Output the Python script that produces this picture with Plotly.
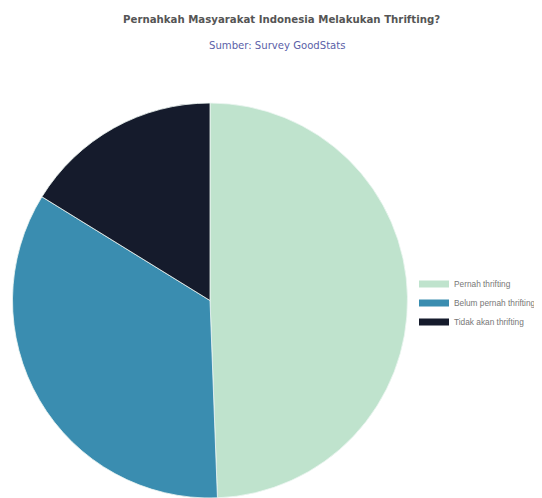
import plotly.graph_objects as go

labels = ["Pernah thrifting", "Belum pernah thrifting", "Tidak akan thrifting"]
values = [49.4, 34.4, 16.2]
colors = ["#bfe3cd", "#3a8db0", "#151b2c"]

title_text = "Pernahkah Masyarakat Indonesia Melakukan Thrifting?"
subtitle_text = "Sumber: Survey GoodStats"

W, H = 534, 490  # page body has an 8px margin

fig = go.Figure()
fig.add_trace(go.Pie(
    labels=labels, values=values, sort=False, direction="clockwise", rotation=0,
    marker=dict(colors=colors, line=dict(color="#eef6f2", width=0.8)),
    textinfo="none", showlegend=False, hoverinfo="label+percent",
    domain=dict(x=[3/W, 401/W], y=[0, (H-95)/H]),
))
for lab, col in zip(labels, colors):
    fig.add_trace(go.Scatter(x=[None], y=[None], mode="lines", name=lab,
                             line=dict(color=col, width=7), showlegend=True))

fig.update_layout(
    width=W, height=H,
    margin=dict(l=0, r=0, t=0, b=0),
    paper_bgcolor="white", plot_bgcolor="white",
    font=dict(family="Liberation Sans, Arial, sans-serif", color="#777"),
    xaxis=dict(visible=False), yaxis=dict(visible=False),
    legend=dict(x=406/W, xanchor="left", y=1-295/H, yanchor="middle",
                font=dict(size=8.3, color="#777"), tracegroupgap=0,
                bgcolor="rgba(0,0,0,0)"),
    annotations=[
        dict(text="<b>" + title_text + "</b>", x=273.5/W, y=1-11/H, xref="paper", yref="paper",
             yanchor="middle", showarrow=False,
             font=dict(family="DejaVu Sans", size=10.2, color="#555")),
        dict(text=subtitle_text, x=269/W, y=1-37/H, xref="paper", yref="paper",
             yanchor="middle", showarrow=False,
             font=dict(family="DejaVu Sans", size=10.1, color="#5b5fa8")),
    ],
)
fig.write_html("out.html")
